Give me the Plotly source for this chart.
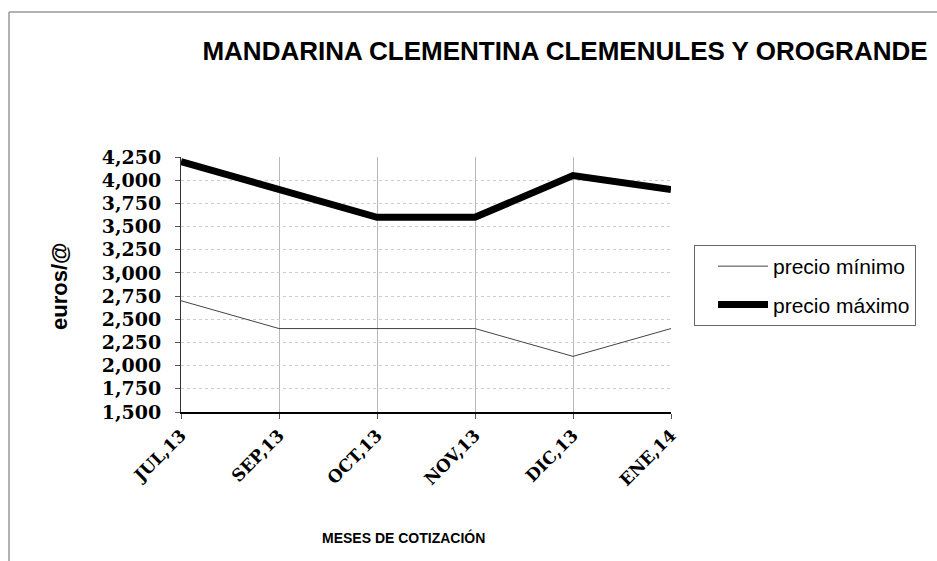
import plotly.graph_objects as go

months = ["JUL,13", "SEP,13", "OCT,13", "NOV,13", "DIC,13", "ENE,14"]
precio_minimo = [2.70, 2.40, 2.40, 2.40, 2.10, 2.40]
precio_maximo = [4.20, 3.90, 3.60, 3.60, 4.05, 3.90]
y_tickvals = [1.5, 1.75, 2.0, 2.25, 2.5, 2.75, 3.0, 3.25, 3.5, 3.75, 4.0, 4.25]
y_ticktext = ["1,500", "1,750", "2,000", "2,250", "2,500", "2,750",
              "3,000", "3,250", "3,500", "3,750", "4,000", "4,250"]

W, H = 937, 561
L, R, T, B = 181, 671, 157, 412

def px(x):
    return (x - L) / (R - L)

def py(y):
    return (B - y) / (B - T)

fig = go.Figure()
fig.add_trace(go.Scatter(x=months, y=precio_minimo, mode="lines", name="precio mínimo",
                         legendgroup="a", line=dict(color="#444444", width=1)))
fig.add_trace(go.Scatter(x=months, y=precio_maximo, mode="lines", name="precio máximo",
                         legendgroup="b", line=dict(color="black", width=7)))

serif = "DejaVu Serif"
sans = "Liberation Sans, Arial, sans-serif"

fig.update_layout(
    width=W, height=H,
    margin=dict(l=L, r=W - R, t=T, b=H - B),
    paper_bgcolor="white", plot_bgcolor="white",
    showlegend=True,
    legend=dict(x=px(694), y=py(245), xanchor="left", yanchor="top",
                bordercolor="#666666", borderwidth=1,
                font=dict(family=sans, size=21, color="black"),
                traceorder="grouped", tracegroupgap=8,
                indentation=18, itemwidth=50),
    title=dict(text="<b>MANDARINA CLEMENTINA CLEMENULES Y OROGRANDE</b>",
               x=px(565), xref="paper", xanchor="center",
               y=1 - 51 / H, yanchor="middle",
               font=dict(family=sans, size=26, color="black")),
    xaxis=dict(
        range=[0, 5], showline=True, linecolor="black", linewidth=1.5,
        showgrid=True, gridcolor="#b8b8b8", gridwidth=1,
        ticks="outside", ticklen=5, tickcolor="#555555",
        tickangle=-45, tickfont=dict(family=serif, size=17, color="black", weight="bold"),
        zeroline=False, mirror=False,
    ),
    yaxis=dict(
        range=[1.5, 4.25], showline=True, linecolor="#333333", linewidth=1,
        showgrid=True, gridcolor="#cccccc", gridwidth=1, griddash="dot",
        tickvals=y_tickvals, ticktext=y_ticktext,
        ticks="outside", ticklen=5, tickcolor="#555555", ticklabelstandoff=10,
        tickfont=dict(family=serif, size=19, color="black", weight="bold"),
        zeroline=False,
    ),
    annotations=[
        dict(text="<b>euros/@</b>", x=px(59), y=py(287), xref="paper", yref="paper",
             textangle=-90, showarrow=False, xanchor="center", yanchor="middle",
             font=dict(family=sans, size=22, color="black")),
        dict(text="<b>MESES DE COTIZACIÓN</b>", x=px(403), y=py(537), xref="paper", yref="paper",
             showarrow=False, xanchor="center", yanchor="middle",
             font=dict(family=sans, size=14, color="black")),
    ],
    shapes=[
        dict(type="line", xref="paper", yref="paper", x0=px(9), x1=px(940), y0=py(12), y1=py(12),
             line=dict(color="#999999", width=1.5)),
        dict(type="line", xref="paper", yref="paper", x0=px(9), x1=px(9), y0=py(12), y1=py(565),
             line=dict(color="#999999", width=1.5)),
    ],
)
fig.update_xaxes(type="category")

fig.write_html("out.html", config={"displayModeBar": False},
               post_script="document.body.style.margin='0';document.body.style.padding='0';")
